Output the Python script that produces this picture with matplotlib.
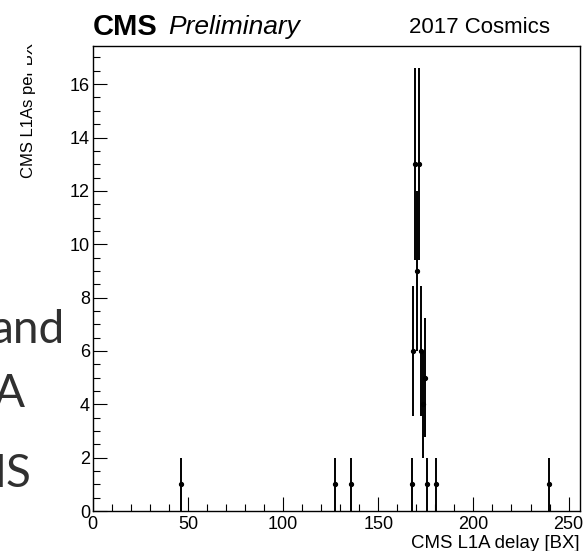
import matplotlib
matplotlib.use("Agg")
import matplotlib.pyplot as plt
import numpy as np
from matplotlib.patches import Rectangle

# ---- data (bin low edges and counts; 1 BX bins) ----
bin_edges = [46, 127, 135, 167, 168, 169, 170, 171, 172, 173, 174, 175, 180, 239]
counts = [1, 1, 1, 1, 6, 13, 9, 13, 6, 4, 5, 1, 1, 1]
x_major = [0, 50, 100, 150, 200, 250]
y_major = [0, 2, 4, 6, 8, 10, 12, 14, 16]
slide_words = ["and", "A", "IS"]

W, H = 585, 551
fig = plt.figure(figsize=(W / 100, H / 100), dpi=100)
plt.rcParams['font.family'] = ['Liberation Sans', 'DejaVu Sans']

def fx(px):
    return px / W

def fy(py):
    return 1 - py / H

ax_left, ax_right, ax_top, ax_bot = 92.7, 580, 46, 511
ax = fig.add_axes([fx(ax_left), fy(ax_bot), fx(ax_right - ax_left), (ax_bot - ax_top) / H])

centers = np.array(bin_edges) + 0.5
vals = np.array(counts, dtype=float)
errs = np.sqrt(vals)
ax.errorbar(centers, vals, yerr=errs, fmt='o', color='black', ms=2.8,
            elinewidth=1.4, capsize=0, zorder=3)

ax.set_xlim(0, 256)
ax.set_ylim(0, 17.43)
ax.set_xticks(x_major)
ax.set_xticks(np.arange(0, 256, 10), minor=True)
ax.set_yticks(y_major)
ax.set_yticks(np.arange(0, 17.4, 0.5), minor=True)
ax.tick_params(which='both', direction='in', top=False, right=False, width=0.8,
               labelsize=13)
ax.tick_params(which='major', length=10)
ax.tick_params(which='minor', length=5)
ax.tick_params(axis='y', which='major', pad=2)
ax.tick_params(axis='x', which='major', pad=3.5)
for s in ax.spines.values():
    s.set_linewidth(1.0)
    s.set_color('black')

# Titles
fig.text(fx(93), fy(35), "CMS", fontsize=21, fontweight='bold', ha='left',
         va='baseline')
fig.text(fx(168), fy(34), "Preliminary", fontsize=19, fontstyle='italic',
         ha='left', va='baseline')
fig.text(fx(550), fy(33), "2017 Cosmics", fontsize=16, ha='right',
         va='baseline')

# Axis titles
fig.text(fx(580), fy(548), "CMS L1A delay [BX]", fontsize=13.4, ha='right',
         va='baseline')
fig.text(fx(28), fy(178), "CMS L1As per BX", fontsize=12, rotation=90,
         ha='center', va='bottom')
# white overlay that clips the top of the y title (as in the reference)
fig.patches.append(Rectangle((0, fy(76)), fx(27), 1 - fy(76), transform=fig.transFigure,
                             facecolor='white', edgecolor='none', zorder=5))

# Large slide text partly visible at the left
slide_props = [(65, 343), (25, 407), (32, 487)]
for word, (xr, yb) in zip(slide_words, slide_props):
    fig.text(fx(xr), fy(yb), word, fontsize=33, family='Lato', color='#303030',
             ha='right', va='baseline', zorder=6)

fig.savefig("out.png", dpi=100)
